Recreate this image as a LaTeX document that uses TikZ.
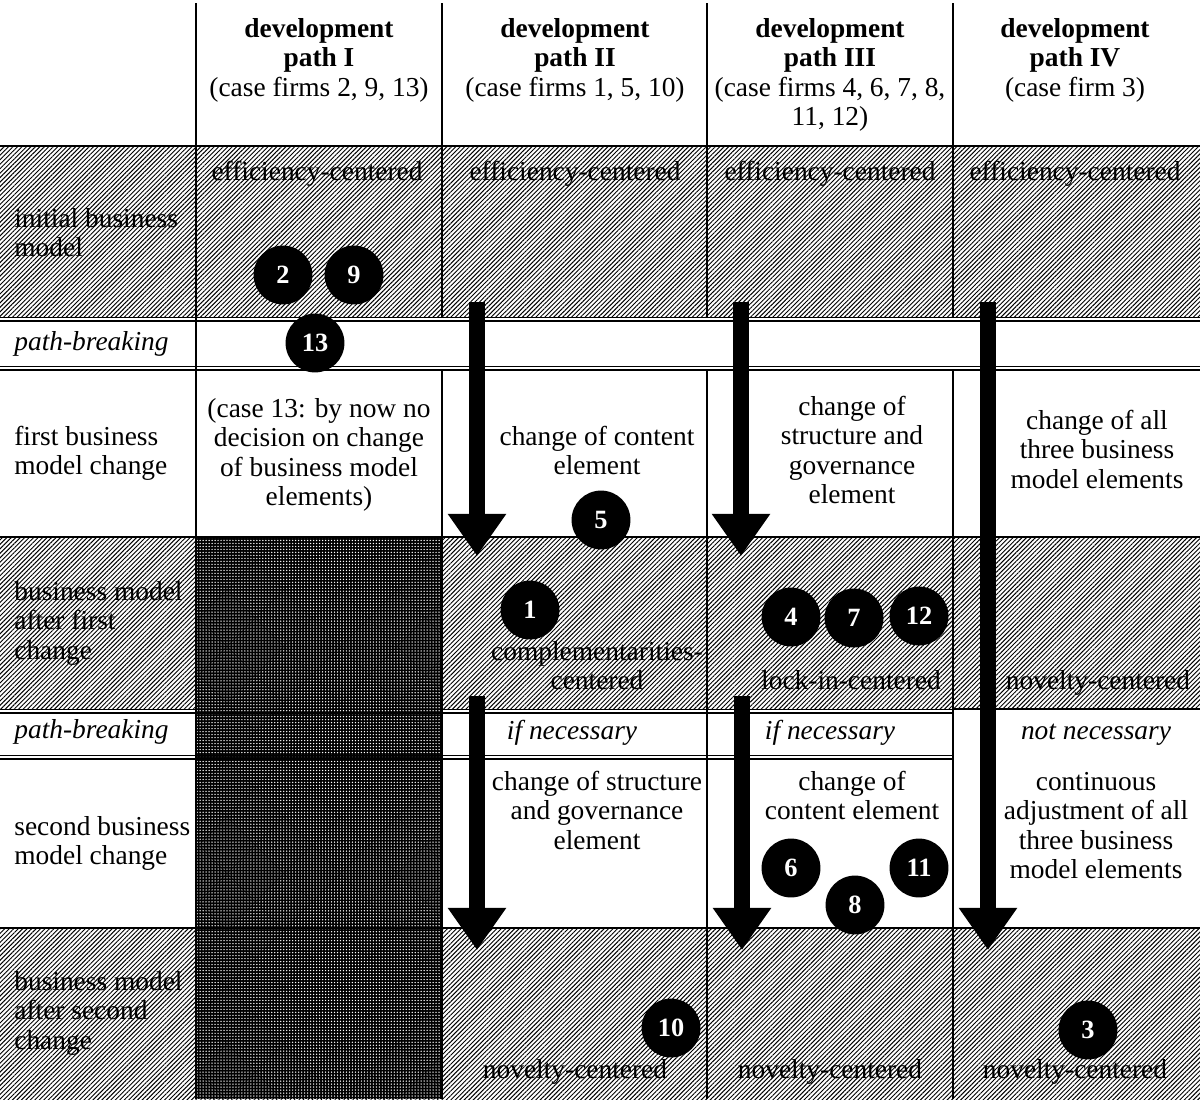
\documentclass[tikz,border=0pt]{standalone}
\usepackage{fontspec}
\setmainfont{Liberation Serif}
\usetikzlibrary{patterns.meta,arrows.meta}
\newcommand{\mlc}[1]{\begin{tabular}[t]{@{}c@{}}#1\end{tabular}}
\newcommand{\mll}[1]{\begin{tabular}[t]{@{}l@{}}#1\end{tabular}}
\begin{document}
\begin{tikzpicture}[x=0.02cm,y=-0.02cm,
  txt/.style={font=\fontsize{15.6}{16.8}\selectfont, inner sep=0pt, anchor=base},
  lbl/.style={txt, anchor=base west},
  hatch/.style={pattern={Lines[angle=45,distance=1.8pt,line width=0.55pt]}, pattern color=black},
  darkfill/.style={preaction={fill=black}, pattern={Dots[distance=1.7pt,radius=0.42pt]}, pattern color=white},
  thinrule/.style={line width=0.6pt},
  boldrule/.style={line width=1.4pt},
  firm/.style={circle, fill=black, inner sep=0pt, minimum size=33.5pt, text=white, font=\fontsize{15}{15}\selectfont\bfseries},
  bigarrow/.style={line width=9.6pt, -{Triangle[width=31.7pt,length=24pt]}}
]
\useasboundingbox (0,0) rectangle (1200,1099);
% ---- fills
\fill[hatch] (0,146) rectangle (1200,317);
\fill[hatch] (0,537) rectangle (1200,709);
\fill[hatch] (0,928) rectangle (1200,1099);
\fill[darkfill] (196,537) rectangle (442,1099);
% ---- rules
\draw[boldrule] (196,3) -- (196,1099);
\draw[line width=0.9pt] (442,3) -- (442,146);
\draw[thinrule] (442,146) -- (442,317) (442,370) -- (442,1099);
\draw[thinrule] (707,3) -- (707,317) (707,370) -- (707,1099);
\draw[thinrule] (953,3) -- (953,317) (953,370) -- (953,1099);
\draw[line width=1.1pt] (0,146) -- (1200,146);
\draw[thinrule] (0,317.5) -- (1200,317.5) (0,321) -- (1200,321);
\draw[thinrule] (0,366.5) -- (1200,366.5) (0,370) -- (1200,370);
\draw[thinrule] (0,537) -- (1200,537);
\draw[thinrule] (0,709.5) -- (953,709.5) (0,713) -- (953,713);
\draw[thinrule] (953,709) -- (1200,709);
\draw[thinrule] (0,755.5) -- (953,755.5) (0,759) -- (953,759);
\draw[thinrule] (0,928) -- (1200,928);
% ---- header
\node[txt] (h1) at (319,37) {\mlc{\textbf{development}\\\textbf{path I}\\(case firms 2, 9, 13)}};
\node[txt] (h2) at (575,37) {\mlc{\textbf{development}\\\textbf{path II}\\(case firms 1, 5, 10)}};
\node[txt] (h3) at (830,37) {\mlc{\textbf{development}\\\textbf{path III}\\(case firms 4, 6, 7, 8,\\11, 12)}};
\node[txt] (h4) at (1075,37) {\mlc{\textbf{development}\\\textbf{path IV}\\(case firm 3)}};
% ---- row labels
\node[lbl] (l1) at (14,227) {\mll{initial business\\model}};
\node[lbl] (l2) at (14,350) {\itshape path-breaking};
\node[lbl] (l3) at (14,445) {\mll{first business\\model change}};
\node[lbl] (l4) at (14,600) {\mll{business model\\after first\\change}};
\node[lbl] (l5) at (14,738) {\itshape path-breaking};
\node[lbl] (l6) at (14,835) {\mll{second business\\model change}};
\node[lbl] (l7) at (14,990) {\mll{business model\\after second\\change}};
% ---- row 1
\node[txt] (e1) at (317,180) {efficiency-centered};
\node[txt] (e2) at (575,180) {efficiency-centered};
\node[txt] (e3) at (830,180) {efficiency-centered};
\node[txt] (e4) at (1075,180) {efficiency-centered};
% ---- first change
\node[txt] (f1) at (319,417) {\mlc{(case 13: by now no\\decision on change\\of business model\\elements)}};
\node[txt] (f2) at (597,445) {\mlc{change of content\\element}};
\node[txt] (f3) at (852,415) {\mlc{change of\\structure and\\governance\\element}};
\node[txt] (f4) at (1097,429) {\mlc{change of all\\three business\\model elements}};
% ---- after first change
\node[txt] (m2) at (597,660) {\mlc{complementarities-\\centered}};
\node[txt] (m3) at (851,689) {lock-in-centered};
\node[txt] (m4) at (1098,689) {novelty-centered};
% ---- path-breaking 2
\node[txt] (p2) at (572,739) {\itshape if necessary};
\node[txt] (p3) at (830,739) {\itshape if necessary};
\node[txt] (p4) at (1096,739) {\itshape not necessary};
% ---- second change
\node[txt] (s2) at (597,790) {\mlc{change of structure\\and governance\\element}};
\node[txt] (s3) at (852,790) {\mlc{change of\\content element}};
\node[txt] (s4) at (1096,790) {\mlc{continuous\\adjustment of all\\three business\\model elements}};
% ---- after second change
\node[txt] (n2) at (575,1078) {novelty-centered};
\node[txt] (n3) at (830,1078) {novelty-centered};
\node[txt] (n4) at (1075,1078) {novelty-centered};
% ---- firms
\node[firm] (c2) at (283,275) {2};
\node[firm] (c9) at (354,275) {9};
\node[firm] (c13) at (315,343) {13};
\node[firm] (c5) at (601,520) {5};
\node[firm] (c1) at (530,610) {1};
\node[firm] (c4) at (791,617) {4};
\node[firm] (c7) at (854,618) {7};
\node[firm] (c12) at (919,616) {12};
\node[firm] (c6) at (791,868) {6};
\node[firm] (c8) at (855,905) {8};
\node[firm] (c11) at (919,868) {11};
\node[firm] (c10) at (671,1028) {10};
\node[firm] (c3) at (1088,1030) {3};
% ---- arrows
\coordinate (a1s) at (477,302); \coordinate (a1e) at (477,556);
\coordinate (a2s) at (741,302); \coordinate (a2e) at (741,556);
\coordinate (a3s) at (988,302); \coordinate (a3e) at (988,950);
\coordinate (a4s) at (477,696); \coordinate (a4e) at (477,950);
\coordinate (a5s) at (742,696); \coordinate (a5e) at (742,950);
\draw[bigarrow] (a1s) -- (a1e);
\draw[bigarrow] (a2s) -- (a2e);
\draw[bigarrow] (a3s) -- (a3e);
\draw[bigarrow] (a4s) -- (a4e);
\draw[bigarrow] (a5s) -- (a5e);
\end{tikzpicture}
\end{document}
